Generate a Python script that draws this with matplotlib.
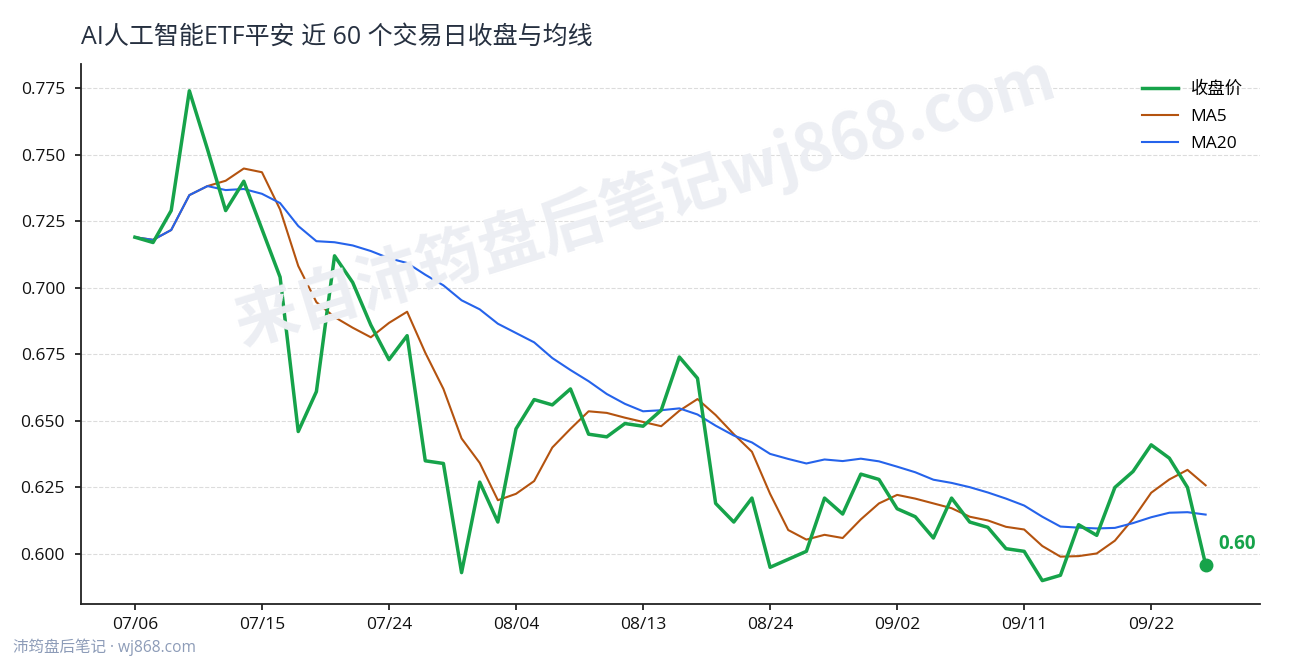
import matplotlib
matplotlib.use("Agg")
import matplotlib.pyplot as plt
import numpy as np

plt.rcParams['font.family'] = ['Open Sans', 'Noto Sans CJK SC', 'DejaVu Sans']
plt.rcParams['axes.unicode_minus'] = False

# 收盘价 (60 trading days)
close = [0.719, 0.717, 0.729, 0.774, 0.752, 0.729, 0.740, 0.722, 0.704, 0.646,
         0.661, 0.712, 0.702, 0.686, 0.673, 0.682, 0.635, 0.634, 0.593, 0.627,
         0.612, 0.647, 0.658, 0.656, 0.662, 0.645, 0.644, 0.649, 0.648, 0.654,
         0.674, 0.666, 0.619, 0.612, 0.621, 0.595, 0.598, 0.601, 0.621, 0.615,
         0.630, 0.628, 0.617, 0.614, 0.606, 0.621, 0.612, 0.610, 0.602, 0.601,
         0.590, 0.592, 0.611, 0.607, 0.625, 0.631, 0.641, 0.636, 0.625, 0.596]

ma5 = [0.7190, 0.7180, 0.7217, 0.7348, 0.7382, 0.7402, 0.7448, 0.7434, 0.7294, 0.7082,
       0.6946, 0.6890, 0.6850, 0.6814, 0.6868, 0.6910, 0.6756, 0.6620, 0.6434, 0.6342,
       0.6202, 0.6226, 0.6274, 0.6400, 0.6470, 0.6536, 0.6530, 0.6512, 0.6496, 0.6480,
       0.6538, 0.6582, 0.6522, 0.6450, 0.6384, 0.6226, 0.6090, 0.6054, 0.6072, 0.6060,
       0.6130, 0.6190, 0.6222, 0.6208, 0.6190, 0.6172, 0.6140, 0.6126, 0.6102, 0.6092,
       0.6030, 0.5990, 0.5992, 0.6002, 0.6050, 0.6132, 0.6230, 0.6280, 0.6316, 0.6258]

ma20 = [0.7190, 0.7180, 0.7217, 0.7348, 0.7382, 0.7367, 0.7371, 0.7353, 0.7318, 0.7232,
        0.7175, 0.7171, 0.7159, 0.7138, 0.7111, 0.7093, 0.7049, 0.7009, 0.6953, 0.6919,
        0.6865, 0.6830, 0.6795, 0.6736, 0.6691, 0.6649, 0.6601, 0.6564, 0.6536, 0.6540,
        0.6547, 0.6524, 0.6482, 0.6445, 0.6419, 0.6376, 0.6357, 0.6340, 0.6355, 0.6349,
        0.6358, 0.6348, 0.6328, 0.6307, 0.6279, 0.6267, 0.6251, 0.6231, 0.6208, 0.6182,
        0.6140, 0.6103, 0.6099, 0.6096, 0.6098, 0.6116, 0.6138, 0.6155, 0.6157, 0.6148]

tick_labels = ["07/06", "07/15", "07/24", "08/04", "08/13",
               "08/24", "09/02", "09/11", "09/22"]

GREEN = '#16a34a'
ORANGE = '#b4530f'
BLUE = '#2563eb'

x = np.arange(len(close))

fig = plt.figure(figsize=(12.9, 6.6), dpi=100)
ax = fig.add_axes([0.0628, 0.0848, 0.914, 0.818])

# watermark
fig.text(0.50, 0.695, "来自沛筠盘后笔记wj868.com", fontsize=46, fontweight='bold',
         color='#eceef3', rotation=17, ha='center', va='center', zorder=0,
         family=['Noto Sans CJK SC', 'DejaVu Sans'])

ax.plot(x, close, color=GREEN, lw=2.5, label='收盘价', zorder=4)
ax.plot(x, ma5, color=ORANGE, lw=1.5, label='MA5', zorder=3)
ax.plot(x, ma20, color=BLUE, lw=1.5, label='MA20', zorder=3)
ax.plot(x[-1], close[-1], 'o', color=GREEN, ms=9, zorder=5)
ax.annotate(f"{close[-1]:.2f}", (x[-1], close[-1]), xytext=(9, 14.5),
            textcoords='offset points', color=GREEN, fontsize=13.5,
            fontweight='bold', ha='left', va='center')

ax.set_xlim(-2.97, 62.0)
ax.set_ylim(0.5812, 0.784)
ax.set_xticks(x[::7])
ax.set_xticklabels(tick_labels)
ax.set_yticks(np.arange(0.600, 0.776, 0.025))
ax.yaxis.set_major_formatter(matplotlib.ticker.FormatStrFormatter('%.3f'))
ax.tick_params(labelsize=12.5, length=4.5, width=1.2, colors='#111111')
ax.tick_params(axis='y', pad=7)
ax.tick_params(axis='x', pad=5)

ax.grid(axis='y', ls='--', color='#dcdcdc', lw=0.8)
ax.set_axisbelow(True)
ax.patch.set_alpha(0)
for s in ['top', 'right']:
    ax.spines[s].set_visible(False)
for s in ['left', 'bottom']:
    ax.spines[s].set_linewidth(1.3)
    ax.spines[s].set_color('#222222')

ax.legend(loc='upper right', frameon=False, fontsize=12.5, handlelength=2.1,
          handletextpad=0.7, borderaxespad=0.6, labelspacing=0.62)

fig.text(0.0628, 0.943, "AI人工智能ETF平安 近 60 个交易日收盘与均线",
         fontsize=18, color='#263040', ha='left', va='center')
fig.text(0.01, 0.019, "沛筠盘后笔记 · wj868.com", fontsize=11.2,
         color='#8d9cb8', ha='left', va='center')

fig.savefig('out.png', dpi=100)
